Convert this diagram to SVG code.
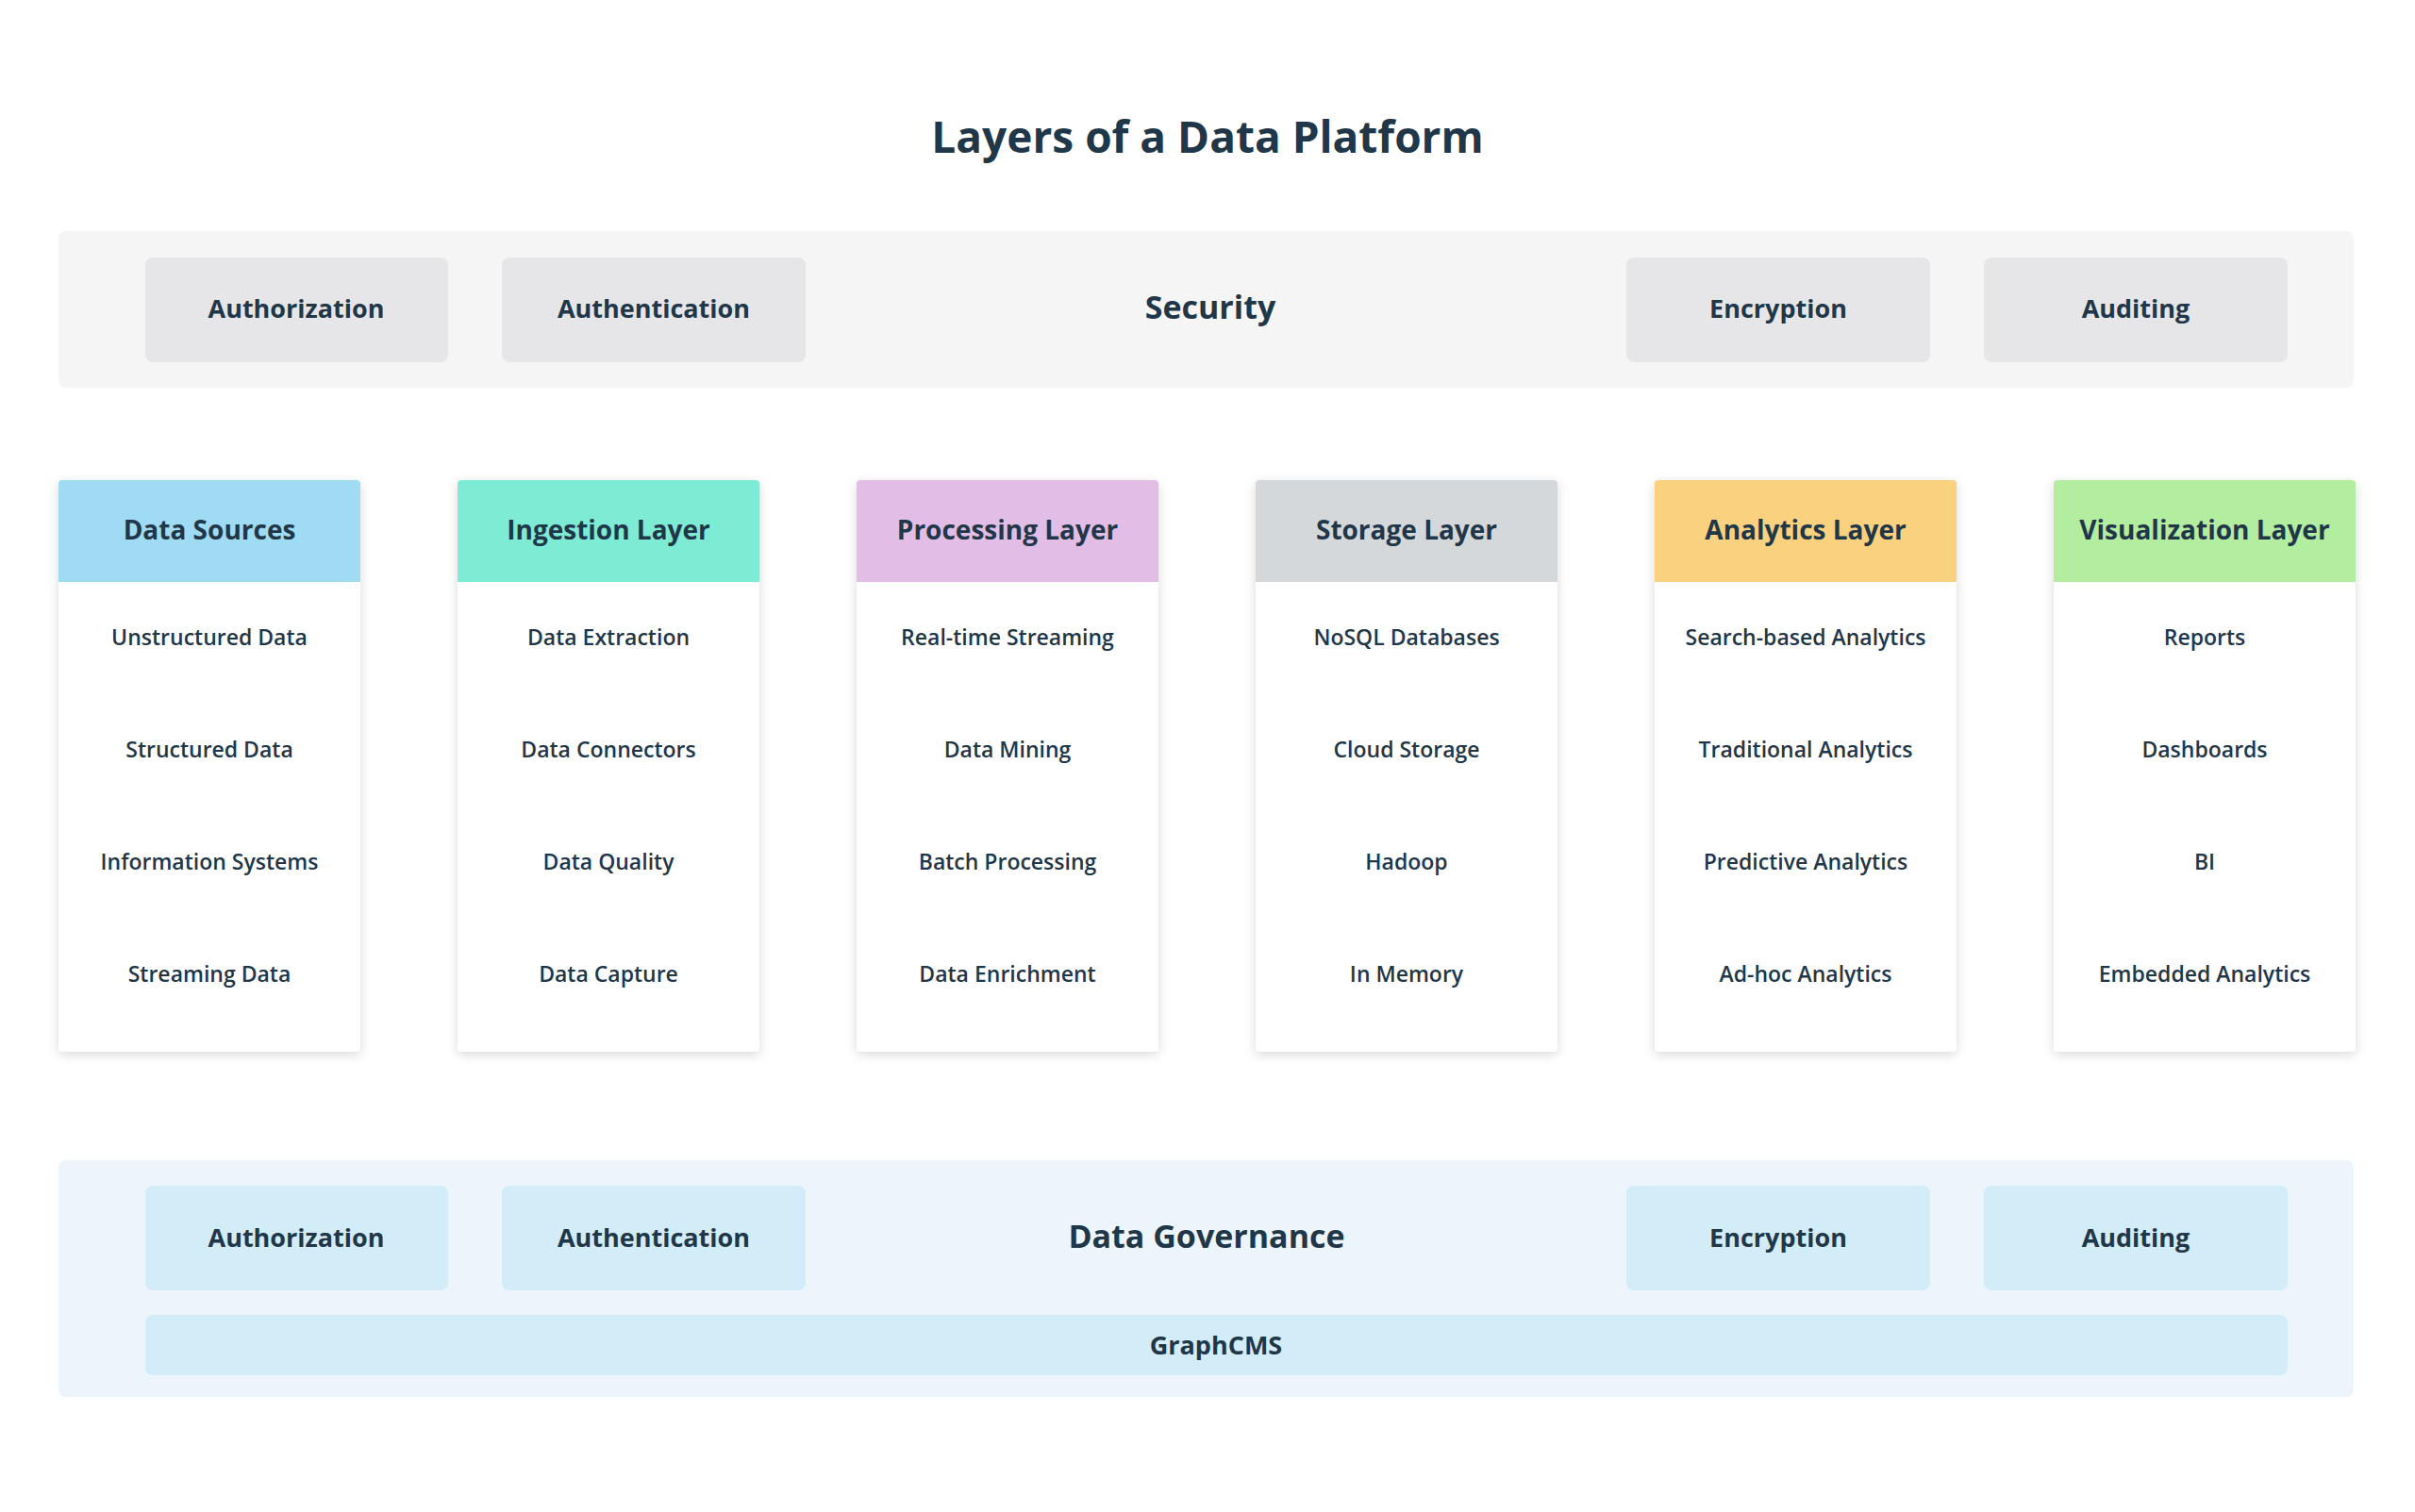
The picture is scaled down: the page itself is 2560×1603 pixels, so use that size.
<svg xmlns="http://www.w3.org/2000/svg" width="2560" height="1603" viewBox="0 0 2560 1603">
<style>
text{font-family:"Open Sans","Noto Sans",sans-serif;fill:#1f3748;text-anchor:middle;dominant-baseline:central}
.t{font-size:46px;font-weight:700}
.band-t{font-size:34px;font-weight:700}
.bl{font-size:27px;font-weight:700}
.h{font-size:28px;font-weight:700}
.i{font-size:23px;font-weight:600}
.sb{fill:#e6e6e8}
.gb{fill:#d2ecf8}
.col{fill:#fff}
</style>
<defs>
<filter id="sh" x="-20%" y="-10%" width="140%" height="125%">
<feDropShadow dx="0" dy="3" stdDeviation="6" flood-color="#000" flood-opacity="0.15"/>
</filter>
</defs>
<rect width="2560" height="1603" fill="#fff"/>
<text class="t" x="1280" y="144">Layers of a Data Platform</text>
<g id="security">
<rect x="62" y="245" width="2433" height="166" rx="8" fill="#f5f5f5"/>
<text class="band-t" x="1283" y="325">Security</text>
<g id="sec-authz"><rect class="sb" x="154" y="273" width="321" height="111" rx="8"/><text class="bl" x="314" y="326">Authorization</text></g>
<g id="sec-authn"><rect class="sb" x="532" y="273" width="322" height="111" rx="8"/><text class="bl" x="693" y="326">Authentication</text></g>
<g id="sec-enc"><rect class="sb" x="1724" y="273" width="322" height="111" rx="8"/><text class="bl" x="1885" y="326">Encryption</text></g>
<g id="sec-aud"><rect class="sb" x="2103" y="273" width="322" height="111" rx="8"/><text class="bl" x="2264" y="326">Auditing</text></g>
</g>
<g id="col-sources">
<rect class="col" x="62" y="509" width="320" height="606" rx="4" filter="url(#sh)"/>
<path d="M66 509h312a4 4 0 0 1 4 4v104h-320v-104a4 4 0 0 1 4-4z" fill="#9fdbf3"/>
<text class="h" x="222" y="561">Data Sources</text>
<text class="i" x="222" y="675">Unstructured Data</text>
<text class="i" x="222" y="794">Structured Data</text>
<text class="i" x="222" y="913">Information Systems</text>
<text class="i" x="222" y="1032">Streaming Data</text>
</g>
<g id="col-ingestion">
<rect class="col" x="485" y="509" width="320" height="606" rx="4" filter="url(#sh)"/>
<path d="M489 509h312a4 4 0 0 1 4 4v104h-320v-104a4 4 0 0 1 4-4z" fill="#7eebd5"/>
<text class="h" x="645" y="561">Ingestion Layer</text>
<text class="i" x="645" y="675">Data Extraction</text>
<text class="i" x="645" y="794">Data Connectors</text>
<text class="i" x="645" y="913">Data Quality</text>
<text class="i" x="645" y="1032">Data Capture</text>
</g>
<g id="col-processing">
<rect class="col" x="908" y="509" width="320" height="606" rx="4" filter="url(#sh)"/>
<path d="M912 509h312a4 4 0 0 1 4 4v104h-320v-104a4 4 0 0 1 4-4z" fill="#e2bde6"/>
<text class="h" x="1068" y="561">Processing Layer</text>
<text class="i" x="1068" y="675">Real-time Streaming</text>
<text class="i" x="1068" y="794">Data Mining</text>
<text class="i" x="1068" y="913">Batch Processing</text>
<text class="i" x="1068" y="1032">Data Enrichment</text>
</g>
<g id="col-storage">
<rect class="col" x="1331" y="509" width="320" height="606" rx="4" filter="url(#sh)"/>
<path d="M1335 509h312a4 4 0 0 1 4 4v104h-320v-104a4 4 0 0 1 4-4z" fill="#d5d8db"/>
<text class="h" x="1491" y="561">Storage Layer</text>
<text class="i" x="1491" y="675">NoSQL Databases</text>
<text class="i" x="1491" y="794">Cloud Storage</text>
<text class="i" x="1491" y="913">Hadoop</text>
<text class="i" x="1491" y="1032">In Memory</text>
</g>
<g id="col-analytics">
<rect class="col" x="1754" y="509" width="320" height="606" rx="4" filter="url(#sh)"/>
<path d="M1758 509h312a4 4 0 0 1 4 4v104h-320v-104a4 4 0 0 1 4-4z" fill="#fad17f"/>
<text class="h" x="1914" y="561">Analytics Layer</text>
<text class="i" x="1914" y="675">Search-based Analytics</text>
<text class="i" x="1914" y="794">Traditional Analytics</text>
<text class="i" x="1914" y="913">Predictive Analytics</text>
<text class="i" x="1914" y="1032">Ad-hoc Analytics</text>
</g>
<g id="col-visualization">
<rect class="col" x="2177" y="509" width="320" height="606" rx="4" filter="url(#sh)"/>
<path d="M2181 509h312a4 4 0 0 1 4 4v104h-320v-104a4 4 0 0 1 4-4z" fill="#b3eda0"/>
<text class="h" x="2337" y="561">Visualization Layer</text>
<text class="i" x="2337" y="675">Reports</text>
<text class="i" x="2337" y="794">Dashboards</text>
<text class="i" x="2337" y="913">BI</text>
<text class="i" x="2337" y="1032">Embedded Analytics</text>
</g>
<g id="governance">
<rect x="62" y="1230" width="2433" height="251" rx="8" fill="#ebf5fb"/>
<text class="band-t" x="1279" y="1310">Data Governance</text>
<g id="gov-authz"><rect class="gb" x="154" y="1257" width="321" height="111" rx="8"/><text class="bl" x="314" y="1311">Authorization</text></g>
<g id="gov-authn"><rect class="gb" x="532" y="1257" width="322" height="111" rx="8"/><text class="bl" x="693" y="1311">Authentication</text></g>
<g id="gov-enc"><rect class="gb" x="1724" y="1257" width="322" height="111" rx="8"/><text class="bl" x="1885" y="1311">Encryption</text></g>
<g id="gov-aud"><rect class="gb" x="2103" y="1257" width="322" height="111" rx="8"/><text class="bl" x="2264" y="1311">Auditing</text></g>
<g id="gov-graphcms"><rect class="gb" x="154" y="1394" width="2271" height="64" rx="8"/><text class="bl" x="1289" y="1425">GraphCMS</text></g>
</g>
<g id="connectors"/>
</svg>
